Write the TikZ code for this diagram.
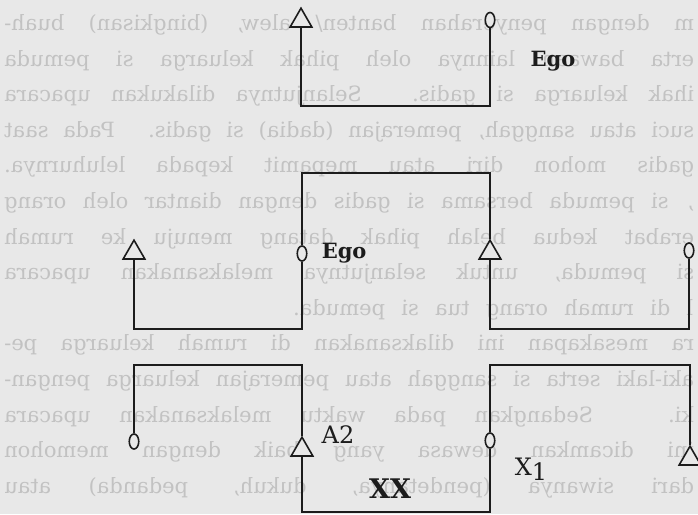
\documentclass[tikz,border=0pt]{standalone}
\usepackage{graphicx}
\usepackage{fontspec}
\setmainfont{DejaVu Serif}
\usepackage{tikz}
\usetikzlibrary{shapes.geometric, positioning}
\definecolor{paper}{HTML}{E8E8E8}
\definecolor{ghost}{HTML}{C2C2C2}
\definecolor{ink}{HTML}{1C1C1C}

\begin{document}
\begin{tikzpicture}[
  x=1pt, y=-1pt,
  ml/.style={regular polygon, regular polygon sides=3, draw=ink, fill=paper,
             line width=1.6pt, minimum size=25pt, inner sep=0pt},
  fm/.style={ellipse, draw=ink, fill=paper, line width=1.6pt,
             minimum width=9.5pt, minimum height=15pt, inner sep=0pt},
  kin/.style={draw=ink, line width=1.6pt},
  lbl/.style={font=\fontsize{21}{21}\selectfont, text=ink, inner sep=0pt},
  pg/.style={font=\fontsize{21}{21}\selectfont, text=ghost, inner sep=0pt,
             anchor=base west}
]
\useasboundingbox (0,0) rectangle (698,514);
\clip (0,0) rectangle (698,514);
\fill[paper] (0,0) rectangle (698,514);

% Text from the back of the page
\foreach \t [count=\i from 2] in {
  {m dengan penyerahan banten/ alew, (bingkisan) buah-},
  {erta bawaan lainnya oleh pihak keluarga si pemuda},
  {ihak keluarga si gadis. Selanjutnya dilakukan upacara},
  {suci atau sanggah, pemerajan (dadia) si gadis. Pada saat},
  {gadis mohon diri atau mepamit kepada leluhurnya.},
  {, si pemuda bersama si gadis dengan diantar oleh orang},
  {erabat kedua belah pihak datang menuju ke rumah},
  {si pemuda, untuk selanjutnya melaksanakan upacara}}
  \node[pg] (p\i) at (4,{30.5+35.6*(\i-2)}) {\reflectbox{\makebox[690pt][s]{\t}}};
\node[pg] (p10) at (293,315.3) {\reflectbox{\makebox[400pt][s]{l di rumah orang tua si pemuda.}}};
\foreach \t [count=\i from 11] in {
  {ra mesakapan ini dilaksanakan di rumah keluarga pe-},
  {aki-laki serta si sanggah atau pemerajan keluarga pengan-},
  {ki. Sedangkan pada waktu melaksanakan upacara},
  {ini dicamkan dewasa yang baik dengan memohon},
  {dari siwanya (pendetanya, dukuh, pedanda) atau}}
  \node[pg] (p\i) at (4,{30.5+35.6*(\i-2)}) {\reflectbox{\makebox[690pt][s]{\t}}};

% Top pair
\node[ml] (m1) at (301,20.7) {};
\node[fm] (f1) at (490,20) {};
% Middle row
\node[ml] (m2) at (134,252.7) {};
\node[fm] (f2) at (302,253.5) {};
\node[ml] (m3) at (490,252.7) {};
\node[fm] (f3) at (689,250.5) {};
% Bottom row
\node[fm] (f4) at (134,441.5) {};
\node[ml] (m4) at (302,449.7) {};
\node[fm] (f5) at (490,440.5) {};
\node[ml] (m5) at (690,458.7) {};

% Labels
\node[lbl, font=\fontsize{21}{21}\selectfont\bfseries] (ego1) at (553,61) {Ego};
\node[lbl, font=\fontsize{21}{21}\selectfont\bfseries, right=14pt of f2] (ego2) {Ego};
\node[lbl, font=\fontsize{24}{24}\selectfont] (a2) at (338,435) {A2};
\node[lbl, font=\fontsize{24}{24}\selectfont] (x1) at (531,469) {X\raisebox{-5pt}{1}};
\node[lbl, font=\fontsize{27}{27}\selectfont\bfseries] (xx) at (390,489) {XX};

% Lines
\coordinate (t1) at (396,106);
\coordinate (t2) at (396,173);
\coordinate (t3) at (218,329);
\coordinate (t4) at (590,329);
\coordinate (t5) at (218,365);
\coordinate (t6) at (590,365);
\coordinate (t7) at (396,512);
\draw[kin] (m1.south) |- (t1) -| (f1.south);
\draw[kin] (f2.north) |- (t2) -| (m3.north);
\draw[kin] (m2.south) |- (t3) -| (f2.south);
\draw[kin] (m3.south) |- (t4) -| (f3.south);
\draw[kin] (f4.north) |- (t5) -| (m4.north);
\draw[kin] (f5.north) |- (t6) -| (m5.north);
\draw[kin] (m4.south) |- (t7) -| (f5.south);
\end{tikzpicture}
\end{document}
